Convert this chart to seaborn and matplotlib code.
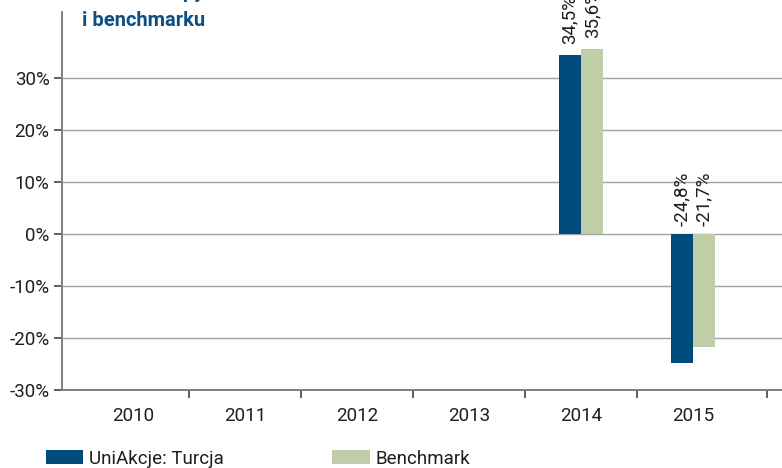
import numpy as np
import pandas as pd
import matplotlib
matplotlib.use("Agg")
import matplotlib.pyplot as plt
import seaborn as sns
from matplotlib.patches import Patch

# ---- data ----
years = ["2010", "2011", "2012", "2013", "2014", "2015"]
fund_name = "UniAkcje: Turcja"
bench_name = "Benchmark"
fund_values = [np.nan, np.nan, np.nan, np.nan, 34.5, -24.8]
bench_values = [np.nan, np.nan, np.nan, np.nan, 35.6, -21.7]
y_ticks = [-30, -20, -10, 0, 10, 20, 30]
title_lines = ["Roczne stopy zwrotu subfunduszu", "i benchmarku"]

blue = "#004a7c"
green = "#bfcea9"
title_color = "#0b4f85"
text_color = "#1e1e1e"
FS = 13.5

df = pd.DataFrame({
    "year": years * 2,
    "value": fund_values + bench_values,
    "series": [fund_name] * len(years) + [bench_name] * len(years),
})

sns.set_theme(style="white")
plt.rcParams["font.family"] = ["Roboto", "DejaVu Sans"]

fig = plt.figure(figsize=(7.82, 4.68), dpi=100)
ax = fig.add_axes([62 / 782, 1 - 390 / 468, 1 - 62 / 782, (390 - 12) / 468])

sns.barplot(data=df, x="year", y="value", hue="series", order=years,
            hue_order=[fund_name, bench_name],
            palette=[blue, green], width=0.4, saturation=1,
            dodge=True, legend=False, ax=ax, zorder=3,
            edgecolor="none", linewidth=0)

ax.set_xlim(-0.634, 5.795)
ax.set_ylim(-30, 42.7)
ax.set_yticks(y_ticks)
ax.set_yticklabels([f"{t}%" for t in y_ticks], fontsize=FS, color=text_color)
ax.set_xlabel("")
ax.set_ylabel("")

# gridlines
for t in y_ticks[1:]:
    ax.axhline(t, color="#a3a3a3", lw=1.0, zorder=1)

# spines
for s in ["top", "right"]:
    ax.spines[s].set_visible(False)
ax.spines["left"].set_color("#7f7f7f")
ax.spines["left"].set_linewidth(1.4)
ax.spines["bottom"].set_color("#7f7f7f")
ax.spines["bottom"].set_linewidth(1.4)

# x tick labels (categories), tick marks at boundaries
ax.set_xticks(range(len(years)))
ax.set_xticklabels(years, fontsize=FS, color=text_color)
ax.tick_params(axis="x", which="major", length=0, pad=12)
ax.set_xticks([0.5, 1.5, 2.5, 3.5, 4.5, 5.66], minor=True)
ax.tick_params(axis="x", which="minor", length=6, width=1.2, color="#444444",
               direction="out", bottom=True)
ax.tick_params(axis="y", length=6, width=1.2, color="#444444", left=True,
               direction="out", pad=3)

# value labels (taken from the drawn bars)
def fmt(v):
    return f"{v:.1f}%".replace(".", ",")

for cont in ax.containers:
    for patch in cont.patches:
        v = patch.get_height()
        if v is None or np.isnan(v):
            continue
        cx = patch.get_x() + patch.get_width() / 2
        base = max(v, 0)
        ax.annotate(fmt(v), xy=(cx, base), xytext=(0, 6 if v < 0 else 7.5),
                    textcoords="offset points", rotation=90,
                    ha="center", va="bottom", fontsize=FS, color=text_color,
                    annotation_clip=False, zorder=4)

# title (first line cut off at top as in reference)
fig.text(82 / 782, 1 - 26 / 468, title_lines[1], fontsize=14.5,
         fontweight="bold", color=title_color, ha="left", va="baseline")
fig.text(82 / 782, 1 + 2 / 468, title_lines[0], fontsize=14.5,
         fontweight="bold", color=title_color, ha="left", va="baseline")

# legend
handles = [Patch(facecolor=blue, edgecolor="none"),
           Patch(facecolor=green, edgecolor="none")]
leg = fig.legend(handles, [fund_name, bench_name], loc="lower left",
                 bbox_to_anchor=(38 / 782, -7 / 468), ncol=2, frameon=False,
                 fontsize=FS, handlelength=2.0, handleheight=0.75,
                 handletextpad=0.3, columnspacing=5.8, borderaxespad=0)
for t in leg.get_texts():
    t.set_color(text_color)

fig.savefig("out.png", dpi=100)
